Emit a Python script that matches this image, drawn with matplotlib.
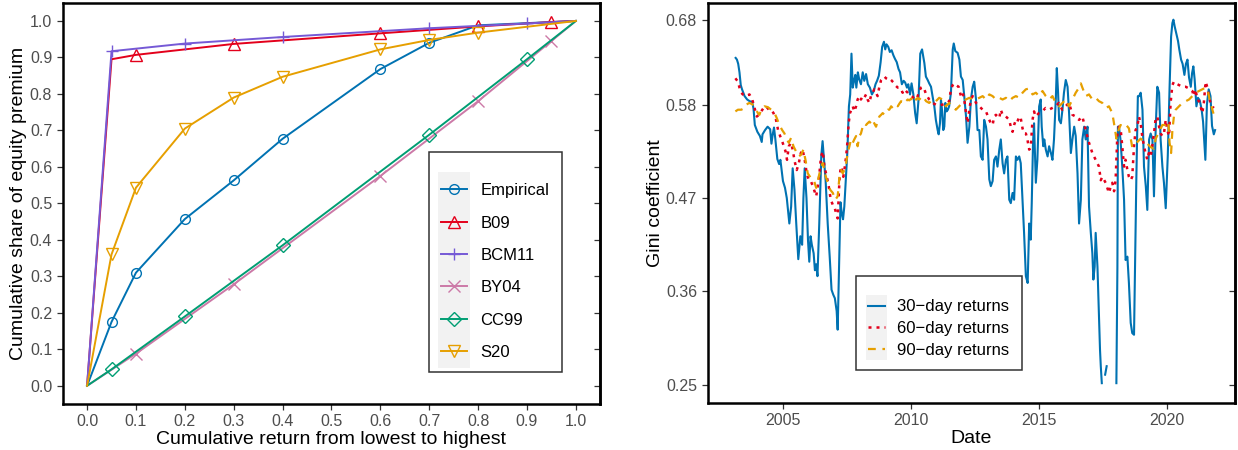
import numpy as np
import matplotlib
matplotlib.use('Agg')
import matplotlib.pyplot as plt
from matplotlib.legend_handler import HandlerLine2D
from matplotlib.patches import Rectangle

plt.rcParams['font.family'] = ['Liberation Sans', 'DejaVu Sans']

# ---- left panel: Lorenz curves ----
curve_names = ['Empirical', 'B09', 'BCM11', 'BY04', 'CC99', 'S20']
curve_colors = ['#0072B2', '#E3001B', '#7559D6', '#CC79A7', '#009E73', '#E69F00']
curve_markers = ['o', '^', '+', 'x', 'D', 'v']

emp_x = [0, 0.05, 0.1, 0.2, 0.3, 0.4, 0.6, 0.7, 0.8, 1.0]
emp_y = [0, 0.175, 0.31, 0.457, 0.563, 0.677, 0.868, 0.94, 0.988, 1.0]
emp_marks = [1, 2, 3, 4, 5, 6, 7]

b09_x = [0, 0.05, 0.1, 0.3, 0.6, 0.8, 0.95, 1.0]
b09_y = [0, 0.895, 0.907, 0.937, 0.966, 0.985, 0.997, 1.0]
b09_marks = [2, 3, 4, 5, 6]

bcm11_x = [0, 0.05, 0.2, 0.4, 0.7, 0.9, 1.0]
bcm11_y = [0, 0.917, 0.938, 0.956, 0.980, 0.993, 1.0]
bcm11_marks = [1, 2, 3, 4, 5]

by04_x = [0, 0.1, 0.3, 0.6, 0.8, 0.95, 1.0]
by04_y = [0, 0.088, 0.278, 0.575, 0.78, 0.945, 1.0]
by04_marks = [1, 2, 3, 4, 5]

cc99_x = [0, 0.05, 0.2, 0.4, 0.7, 0.9, 1.0]
cc99_y = [0, 0.045, 0.19, 0.385, 0.688, 0.895, 1.0]
cc99_marks = [1, 2, 3, 4, 5]

s20_x = [0, 0.05, 0.1, 0.2, 0.3, 0.4, 0.6, 0.7, 0.8, 1.0]
s20_y = [0, 0.36, 0.543, 0.705, 0.79, 0.847, 0.922, 0.948, 0.968, 1.0]
s20_marks = [1, 2, 3, 4, 5, 6, 7, 8]

# ---- right panel: rolling Gini coefficient ----
d30 = [2003.15, 2003.2, 2003.25, 2003.3, 2003.35, 2003.4, 2003.5, 2003.6, 2003.7, 2003.8,
       2003.85, 2003.9, 2004.0, 2004.1, 2004.17, 2004.2, 2004.3, 2004.4, 2004.5, 2004.55,
       2004.6, 2004.65, 2004.7, 2004.78, 2004.85, 2004.9, 2005.0, 2005.08, 2005.15, 2005.25,
       2005.32, 2005.38, 2005.45, 2005.52, 2005.6, 2005.68, 2005.75, 2005.8, 2005.85, 2005.92,
       2005.98, 2006.03, 2006.08, 2006.13, 2006.2, 2006.25, 2006.3, 2006.35, 2006.42, 2006.5,
       2006.55, 2006.6, 2006.67, 2006.75, 2006.83, 2006.9, 2006.97, 2007.03, 2007.1, 2007.14,
       2007.2, 2007.25, 2007.3, 2007.35, 2007.4, 2007.47, 2007.52, 2007.58, 2007.63, 2007.68,
       2007.73, 2007.78, 2007.83, 2007.87, 2007.93, 2007.98, 2008.05, 2008.12, 2008.18, 2008.25,
       2008.32, 2008.4, 2008.48, 2008.55, 2008.62, 2008.68, 2008.75, 2008.82, 2008.88, 2008.95,
       2009.0, 2009.05, 2009.12, 2009.18, 2009.25, 2009.32, 2009.38, 2009.45, 2009.52, 2009.58,
       2009.65, 2009.72, 2009.78, 2009.85, 2009.9, 2009.97, 2010.03, 2010.1, 2010.17, 2010.23,
       2010.3, 2010.37, 2010.44, 2010.53, 2010.59, 2010.66, 2010.72, 2010.79, 2010.85, 2010.92,
       2010.98, 2011.05, 2011.09, 2011.14, 2011.18, 2011.22, 2011.27, 2011.31, 2011.35, 2011.4,
       2011.45, 2011.5, 2011.57, 2011.64, 2011.68, 2011.74, 2011.83, 2011.9, 2011.96, 2012.03,
       2012.09, 2012.16, 2012.22, 2012.29, 2012.35, 2012.42, 2012.48, 2012.55, 2012.61, 2012.68,
       2012.74, 2012.81, 2012.87, 2012.94, 2013.0, 2013.07, 2013.13, 2013.2, 2013.26, 2013.33,
       2013.39, 2013.46, 2013.52, 2013.59, 2013.65, 2013.72, 2013.78, 2013.85, 2013.91, 2013.98,
       2014.04, 2014.11, 2014.17, 2014.24, 2014.3, 2014.37, 2014.43, 2014.5, 2014.57, 2014.63,
       2014.69, 2014.73, 2014.78, 2014.82, 2014.89, 2014.95, 2015.02, 2015.08, 2015.12, 2015.18,
       2015.22, 2015.28, 2015.35, 2015.41, 2015.48, 2015.54, 2015.6, 2015.67, 2015.71, 2015.76,
       2015.8, 2015.87, 2015.93, 2015.99, 2016.06, 2016.13, 2016.19, 2016.26, 2016.32, 2016.39,
       2016.45, 2016.52, 2016.58, 2016.65, 2016.71, 2016.78, 2016.84, 2016.91, 2016.97, 2017.04,
       2017.1, 2017.14, 2017.19, 2017.23, 2017.3, 2017.36, 2017.4, 2017.43, 2017.47, 2017.5,
       2017.6, 2017.66, 2017.7, 2018.04, 2018.08, 2018.1, 2018.14, 2018.2, 2018.27, 2018.34,
       2018.4, 2018.47, 2018.53, 2018.6, 2018.66, 2018.73, 2018.77, 2018.82, 2018.88, 2018.93,
       2018.99, 2019.06, 2019.12, 2019.19, 2019.25, 2019.32, 2019.38, 2019.45, 2019.51, 2019.58,
       2019.64, 2019.71, 2019.77, 2019.84, 2019.9, 2019.97, 2020.05, 2020.12, 2020.18, 2020.23,
       2020.27, 2020.32, 2020.38, 2020.45, 2020.5, 2020.57, 2020.63, 2020.7, 2020.76, 2020.82,
       2020.88, 2020.95, 2021.0, 2021.05, 2021.1, 2021.17, 2021.23, 2021.3, 2021.37, 2021.43,
       2021.47, 2021.52, 2021.58, 2021.65, 2021.72, 2021.78, 2021.85, 2021.9]
g30 = [0.635, 0.633, 0.628, 0.618, 0.603, 0.598, 0.590, 0.586, 0.584, 0.583,
       0.575, 0.556, 0.548, 0.543, 0.536, 0.545, 0.550, 0.554, 0.551, 0.534,
       0.545, 0.553, 0.540, 0.516, 0.510, 0.515, 0.490, 0.482, 0.470, 0.440,
       0.460, 0.505, 0.480, 0.440, 0.398, 0.425, 0.415, 0.470, 0.505, 0.470,
       0.420, 0.395, 0.425, 0.415, 0.405, 0.385, 0.392, 0.378, 0.440, 0.520,
       0.537, 0.518, 0.490, 0.440, 0.400, 0.362, 0.356, 0.352, 0.337, 0.315,
       0.395, 0.465, 0.452, 0.445, 0.460, 0.498, 0.525, 0.578, 0.592, 0.640,
       0.600, 0.608, 0.615, 0.600, 0.618, 0.610, 0.604, 0.618, 0.608, 0.616,
       0.604, 0.600, 0.592, 0.596, 0.604, 0.608, 0.614, 0.630, 0.648, 0.654,
       0.645, 0.651, 0.648, 0.642, 0.644, 0.638, 0.634, 0.630, 0.622, 0.618,
       0.604, 0.608, 0.606, 0.600, 0.604, 0.592, 0.605, 0.592, 0.570, 0.558,
       0.585, 0.640, 0.645, 0.629, 0.613, 0.609, 0.605, 0.601, 0.590, 0.578,
       0.562, 0.550, 0.545, 0.558, 0.586, 0.574, 0.550, 0.554, 0.582, 0.572,
       0.574, 0.578, 0.594, 0.645, 0.652, 0.643, 0.641, 0.633, 0.613, 0.609,
       0.590, 0.566, 0.535, 0.554, 0.586, 0.601, 0.607, 0.586, 0.550, 0.550,
       0.519, 0.515, 0.562, 0.554, 0.539, 0.492, 0.484, 0.490, 0.515, 0.519,
       0.507, 0.527, 0.539, 0.511, 0.499, 0.515, 0.519, 0.468, 0.464, 0.476,
       0.468, 0.519, 0.515, 0.519, 0.511, 0.468, 0.429, 0.378, 0.370, 0.440,
       0.421, 0.464, 0.535, 0.558, 0.488, 0.515, 0.578, 0.586, 0.554, 0.531,
       0.539, 0.527, 0.519, 0.531, 0.523, 0.515, 0.539, 0.586, 0.623, 0.594,
       0.562, 0.558, 0.574, 0.594, 0.609, 0.601, 0.570, 0.523, 0.539, 0.554,
       0.543, 0.499, 0.440, 0.468, 0.539, 0.554, 0.539, 0.554, 0.460, 0.429,
       0.405, 0.374, 0.389, 0.429, 0.389, 0.331, 0.291, 0.272, 0.252, np.nan,
       0.262, 0.272, np.nan, 0.252, 0.389, 0.554, 0.554, 0.539, 0.507, 0.468,
       0.397, 0.401, 0.370, 0.323, 0.311, 0.309, 0.389, 0.492, 0.590, 0.590,
       0.594, 0.574, 0.507, 0.484, 0.456, 0.539, 0.546, 0.539, 0.472, 0.554,
       0.601, 0.594, 0.539, 0.507, 0.488, 0.458, 0.520, 0.600, 0.660, 0.676,
       0.680, 0.672, 0.664, 0.655, 0.645, 0.633, 0.628, 0.615, 0.628, 0.633,
       0.612, 0.601, 0.617, 0.625, 0.610, 0.578, 0.588, 0.585, 0.575, 0.560,
       0.540, 0.515, 0.580, 0.598, 0.590, 0.555, 0.545, 0.550]

d60 = [2003.14, 2003.24, 2003.3, 2003.37, 2003.43, 2003.56, 2003.69, 2003.8, 2003.89, 2003.98,
       2004.06, 2004.15, 2004.24, 2004.34, 2004.45, 2004.54, 2004.63, 2004.73, 2004.81, 2004.89,
       2004.99, 2005.1, 2005.16, 2005.23, 2005.32, 2005.38, 2005.46, 2005.54, 2005.62, 2005.7,
       2005.77, 2005.85, 2005.93, 2006.01, 2006.09, 2006.17, 2006.3, 2006.4, 2006.49, 2006.56,
       2006.62, 2006.71, 2006.79, 2006.87, 2006.95, 2007.01, 2007.08, 2007.14, 2007.21, 2007.26,
       2007.31, 2007.36, 2007.42, 2007.47, 2007.52, 2007.57, 2007.62, 2007.68, 2007.73, 2007.79,
       2007.86, 2007.92, 2007.99, 2008.05, 2008.12, 2008.18, 2008.25, 2008.31, 2008.38, 2008.44,
       2008.51, 2008.57, 2008.64, 2008.7, 2008.77, 2008.84, 2008.9, 2008.97, 2009.03, 2009.1,
       2009.16, 2009.23, 2009.29, 2009.36, 2009.42, 2009.49, 2009.55, 2009.62, 2009.68, 2009.75,
       2009.81, 2009.88, 2009.94, 2010.01, 2010.07, 2010.14, 2010.2, 2010.27, 2010.33, 2010.4,
       2010.46, 2010.53, 2010.6, 2010.72, 2010.85, 2010.98, 2011.11, 2011.24, 2011.37, 2011.5,
       2011.57, 2011.64, 2011.7, 2011.77, 2011.87, 2011.96, 2012.03, 2012.09, 2012.16, 2012.22,
       2012.29, 2012.35, 2012.42, 2012.55, 2012.68, 2012.81, 2012.94, 2013.07, 2013.13, 2013.2,
       2013.26, 2013.33, 2013.39, 2013.46, 2013.52, 2013.59, 2013.72, 2013.85, 2013.91, 2013.98,
       2014.04, 2014.11, 2014.17, 2014.24, 2014.3, 2014.37, 2014.43, 2014.5, 2014.56, 2014.63,
       2014.69, 2014.76, 2014.82, 2014.88, 2015.01, 2015.14, 2015.27, 2015.4, 2015.53, 2015.66,
       2015.79, 2015.92, 2016.05, 2016.19, 2016.32, 2016.45, 2016.58, 2016.71, 2016.84, 2016.97,
       2017.1, 2017.23, 2017.36, 2017.43, 2017.49, 2017.62, 2017.75, 2017.82, 2017.88, 2017.95,
       2018.01, 2018.08, 2018.14, 2018.21, 2018.27, 2018.34, 2018.4, 2018.47, 2018.53, 2018.6,
       2018.66, 2018.73, 2018.79, 2018.86, 2018.92, 2018.99, 2019.05, 2019.12, 2019.18, 2019.25,
       2019.31, 2019.38, 2019.44, 2019.51, 2019.57, 2019.64, 2019.71, 2019.77, 2019.84, 2019.9,
       2019.97, 2020.03, 2020.1, 2020.16, 2020.23, 2020.29, 2020.36, 2020.49, 2020.62, 2020.75,
       2020.88, 2021.01, 2021.07, 2021.14, 2021.2, 2021.27, 2021.33, 2021.4, 2021.46, 2021.53,
       2021.59, 2021.66, 2021.72, 2021.79, 2021.85]
g60 = [0.611, 0.607, 0.600, 0.594, 0.592, 0.590, 0.592, 0.586, 0.576, 0.566,
       0.568, 0.572, 0.576, 0.578, 0.574, 0.574, 0.570, 0.562, 0.550, 0.543,
       0.535, 0.525, 0.515, 0.531, 0.535, 0.527, 0.513, 0.503, 0.511, 0.523,
       0.527, 0.515, 0.499, 0.491, 0.490, 0.484, 0.472, 0.491, 0.519, 0.525,
       0.507, 0.496, 0.484, 0.468, 0.462, 0.460, 0.452, 0.446, 0.491, 0.507,
       0.503, 0.495, 0.507, 0.519, 0.535, 0.558, 0.570, 0.574, 0.578, 0.572,
       0.578, 0.586, 0.590, 0.586, 0.590, 0.588, 0.592, 0.586, 0.582, 0.590,
       0.594, 0.598, 0.594, 0.590, 0.601, 0.609, 0.611, 0.613, 0.611, 0.610,
       0.611, 0.609, 0.607, 0.605, 0.602, 0.600, 0.600, 0.598, 0.594, 0.598,
       0.596, 0.594, 0.592, 0.590, 0.589, 0.587, 0.586, 0.590, 0.596, 0.600,
       0.601, 0.598, 0.592, 0.586, 0.582, 0.580, 0.579, 0.580, 0.581, 0.584,
       0.598, 0.603, 0.605, 0.603, 0.601, 0.590, 0.594, 0.586, 0.570, 0.558,
       0.574, 0.586, 0.590, 0.582, 0.578, 0.574, 0.572, 0.562, 0.558, 0.556,
       0.566, 0.568, 0.566, 0.564, 0.574, 0.568, 0.566, 0.562, 0.554, 0.548,
       0.556, 0.562, 0.560, 0.566, 0.564, 0.552, 0.546, 0.546, 0.539, 0.527,
       0.529, 0.562, 0.572, 0.566, 0.570, 0.572, 0.576, 0.574, 0.576, 0.578,
       0.582, 0.574, 0.578, 0.582, 0.568, 0.566, 0.562, 0.566, 0.550, 0.535,
       0.523, 0.515, 0.507, 0.491, 0.495, 0.488, 0.476, 0.484, 0.488, 0.478,
       0.491, 0.546, 0.554, 0.550, 0.531, 0.507, 0.515, 0.503, 0.495, 0.491,
       0.495, 0.531, 0.550, 0.554, 0.566, 0.558, 0.543, 0.531, 0.523, 0.515,
       0.523, 0.519, 0.531, 0.546, 0.562, 0.566, 0.554, 0.546, 0.543, 0.546,
       0.562, 0.550, 0.543, 0.582, 0.603, 0.607, 0.605, 0.603, 0.601, 0.601,
       0.599, 0.596, 0.590, 0.598, 0.586, 0.584, 0.578, 0.570, 0.582, 0.607,
       0.601, 0.590, 0.582, 0.578, 0.576]

d90 = [2003.14, 2003.24, 2003.37, 2003.5, 2003.56, 2003.69, 2003.82, 2003.95, 2004.02, 2004.08,
       2004.15, 2004.28, 2004.41, 2004.54, 2004.67, 2004.76, 2004.86, 2004.97, 2005.06, 2005.15,
       2005.23, 2005.32, 2005.41, 2005.51, 2005.62, 2005.71, 2005.8, 2005.88, 2005.97, 2006.06,
       2006.14, 2006.22, 2006.3, 2006.4, 2006.49, 2006.56, 2006.66, 2006.75, 2006.84, 2006.95,
       2007.05, 2007.14, 2007.21, 2007.27, 2007.34, 2007.4, 2007.47, 2007.53, 2007.6, 2007.66,
       2007.73, 2007.79, 2007.86, 2007.92, 2007.99, 2008.05, 2008.12, 2008.18, 2008.25, 2008.31,
       2008.38, 2008.44, 2008.51, 2008.57, 2008.64, 2008.7, 2008.77, 2008.84, 2008.9, 2008.97,
       2009.03, 2009.1, 2009.16, 2009.23, 2009.29, 2009.36, 2009.42, 2009.49, 2009.55, 2009.62,
       2009.68, 2009.75, 2009.81, 2009.88, 2009.94, 2010.01, 2010.07, 2010.14, 2010.2, 2010.27,
       2010.33, 2010.46, 2010.6, 2010.72, 2010.85, 2010.98, 2011.11, 2011.24, 2011.37, 2011.5,
       2011.63, 2011.76, 2011.89, 2012.02, 2012.15, 2012.29, 2012.42, 2012.55, 2012.68, 2012.81,
       2012.94, 2013.07, 2013.2, 2013.33, 2013.46, 2013.59, 2013.72, 2013.85, 2013.98, 2014.11,
       2014.24, 2014.37, 2014.5, 2014.63, 2014.76, 2014.89, 2015.02, 2015.15, 2015.28, 2015.41,
       2015.54, 2015.67, 2015.8, 2015.93, 2016.06, 2016.19, 2016.32, 2016.45, 2016.58, 2016.65,
       2016.71, 2016.84, 2016.97, 2017.1, 2017.23, 2017.36, 2017.49, 2017.62, 2017.75, 2017.88,
       2017.98, 2018.04, 2018.1, 2018.2, 2018.3, 2018.4, 2018.53, 2018.6, 2018.66, 2018.73,
       2018.86, 2018.99, 2019.12, 2019.25, 2019.38, 2019.5, 2019.58, 2019.71, 2019.84, 2019.97,
       2020.07, 2020.12, 2020.18, 2020.23, 2020.29, 2020.36, 2020.49, 2020.62, 2020.75, 2020.88,
       2021.01, 2021.14, 2021.27, 2021.4, 2021.53, 2021.63, 2021.72, 2021.85]
g90 = [0.572, 0.574, 0.574, 0.576, 0.580, 0.582, 0.580, 0.574, 0.570, 0.568,
       0.574, 0.578, 0.577, 0.574, 0.570, 0.564, 0.556, 0.550, 0.546, 0.539,
       0.535, 0.541, 0.531, 0.525, 0.519, 0.521, 0.527, 0.515, 0.499, 0.495,
       0.491, 0.490, 0.482, 0.495, 0.507, 0.511, 0.497, 0.488, 0.480, 0.476,
       0.468, 0.472, 0.495, 0.503, 0.499, 0.503, 0.511, 0.523, 0.531, 0.539,
       0.535, 0.539, 0.543, 0.531, 0.543, 0.546, 0.554, 0.558, 0.556, 0.558,
       0.560, 0.558, 0.562, 0.558, 0.554, 0.560, 0.566, 0.568, 0.570, 0.568,
       0.572, 0.574, 0.574, 0.578, 0.576, 0.579, 0.580, 0.578, 0.581, 0.584,
       0.583, 0.586, 0.584, 0.586, 0.585, 0.587, 0.586, 0.582, 0.586, 0.588,
       0.586, 0.590, 0.584, 0.582, 0.586, 0.584, 0.588, 0.586, 0.578, 0.582,
       0.578, 0.574, 0.578, 0.582, 0.586, 0.588, 0.586, 0.586, 0.588, 0.590,
       0.586, 0.592, 0.590, 0.586, 0.588, 0.586, 0.588, 0.584, 0.588, 0.590,
       0.588, 0.594, 0.598, 0.599, 0.592, 0.594, 0.590, 0.596, 0.590, 0.586,
       0.590, 0.582, 0.578, 0.582, 0.586, 0.578, 0.586, 0.594, 0.600, 0.605,
       0.600, 0.590, 0.592, 0.586, 0.588, 0.584, 0.582, 0.576, 0.578, 0.570,
       0.552, 0.540, 0.548, 0.556, 0.555, 0.557, 0.552, 0.540, 0.530, 0.533,
       0.536, 0.540, 0.536, 0.534, 0.530, 0.528, 0.540, 0.548, 0.556, 0.556,
       0.560, 0.535, 0.523, 0.550, 0.566, 0.574, 0.578, 0.582, 0.584, 0.586,
       0.590, 0.594, 0.596, 0.598, 0.600, 0.594, 0.582, 0.568]

series_labels = ['30\u2212day returns', '60\u2212day returns', '90\u2212day returns']


class KeyHandler(HandlerLine2D):
    # legend key drawn on a light grey tile, ggplot style
    def __init__(self, pitch, pad=2.0, **kw):
        super().__init__(**kw)
        self.pitch = pitch
        self.pad = pad

    def create_artists(self, legend, orig_handle, xdescent, ydescent,
                       width, height, fontsize, trans):
        arts = super().create_artists(legend, orig_handle, xdescent, ydescent,
                                      width, height, fontsize, trans)
        yc = (height - ydescent) / 2
        bg = Rectangle((-xdescent - self.pad, yc - self.pitch / 2),
                       width + 2 * self.pad, self.pitch,
                       facecolor='#F2F2F2', edgecolor='none', transform=trans)
        return [bg] + list(arts)


def style_axes(ax, yticks):
    for s in ax.spines.values():
        s.set_linewidth(1.8)
        s.set_color('black')
    ax.tick_params(axis='both', direction='out', length=4, width=0.9,
                   color='#333333', labelcolor='#4D4D4D', labelsize=11.5)
    sec = ax.secondary_yaxis('right')
    sec.set_yticks(yticks)
    sec.tick_params(direction='in', length=4, width=0.9, color='#333333',
                    labelright=False)
    sec.spines['right'].set_linewidth(1.8)


fig = plt.figure(figsize=(12.38, 4.5), dpi=100)

# left panel
ax1 = fig.add_axes([0.0506, 0.1022, 0.4343, 0.8918])
lorenz = [(emp_x, emp_y, emp_marks), (b09_x, b09_y, b09_marks),
          (bcm11_x, bcm11_y, bcm11_marks), (by04_x, by04_y, by04_marks),
          (cc99_x, cc99_y, cc99_marks), (s20_x, s20_y, s20_marks)]
handles = []
for (xs, ys, mk), name, col, m in zip(lorenz, curve_names, curve_colors, curve_markers):
    msize = 7 if m in ('o', 'D') else 9
    h, = ax1.plot(xs, ys, color=col, lw=1.4, marker=m, markevery=mk,
                  markersize=msize, markerfacecolor='none', markeredgecolor=col,
                  markeredgewidth=1.0, label=name)
    handles.append(h)

ax1.set_xlim(-0.05, 1.05)
ax1.set_ylim(-0.05, 1.05)
ticks = np.round(np.arange(0, 1.01, 0.1), 1)
ax1.set_xticks(ticks)
ax1.set_yticks(ticks)
ax1.set_xticklabels(['%.1f' % t for t in ticks])
ax1.set_yticklabels(['%.1f' % t for t in ticks])
style_axes(ax1, ticks)
ax1.set_xlabel('Cumulative return from lowest to highest', fontsize=14, labelpad=1)
ax1.set_ylabel('Cumulative share of equity premium', fontsize=14, labelpad=2)

leg1 = ax1.legend(handles=handles, loc='upper left', bbox_to_anchor=(0.681, 0.627),
                  fontsize=12, frameon=True, fancybox=False, edgecolor='black',
                  borderpad=0.75, labelspacing=1.04, handlelength=1.55,
                  handletextpad=0.8, borderaxespad=0, title=' ', title_fontsize=1,
                  handler_map={h: KeyHandler(pitch=24.5, pad=2.2) for h in handles})
leg1.get_frame().set_linewidth(1.1)

# right panel
ax2 = fig.add_axes([0.5715, 0.1051, 0.4261, 0.8889])
l30, = ax2.plot(d30, g30, color='#0072B2', lw=1.5, label=series_labels[0])
l60, = ax2.plot(d60, g60, color='#E3001B', lw=1.8, linestyle=(0, (1.2, 2.0)),
                label=series_labels[1])
l90, = ax2.plot(d90, g90, color='#E69F00', lw=1.6, linestyle=(0, (3.5, 3.0)),
                label=series_labels[2])
ax2.set_xlim(2002.05, 2022.68)
ax2.set_ylim(0.229, 0.7)
gini_ticks = [0.25, 0.36, 0.47, 0.58, 0.68]
ax2.set_yticks(gini_ticks)
ax2.set_yticklabels(['0.25', '0.36', '0.47', '0.58', '0.68'])
ax2.set_xticks([2005, 2010, 2015, 2020])
style_axes(ax2, gini_ticks)
ax2.set_xlabel('Date', fontsize=14, labelpad=1)
ax2.set_ylabel('Gini coefficient', fontsize=14, labelpad=1)

lines2 = [l30, l60, l90]
leg2 = ax2.legend(handles=lines2, loc='upper left', bbox_to_anchor=(0.281, 0.316),
                  fontsize=12, frameon=True, fancybox=False, edgecolor='black',
                  borderpad=0.75, labelspacing=0.4, handlelength=1.0,
                  handletextpad=0.72, borderaxespad=0, title=' ', title_fontsize=3,
                  handler_map={h: KeyHandler(pitch=16.0, pad=1.6) for h in lines2})
leg2.get_frame().set_linewidth(1.1)

fig.savefig('out.png', dpi=100)
